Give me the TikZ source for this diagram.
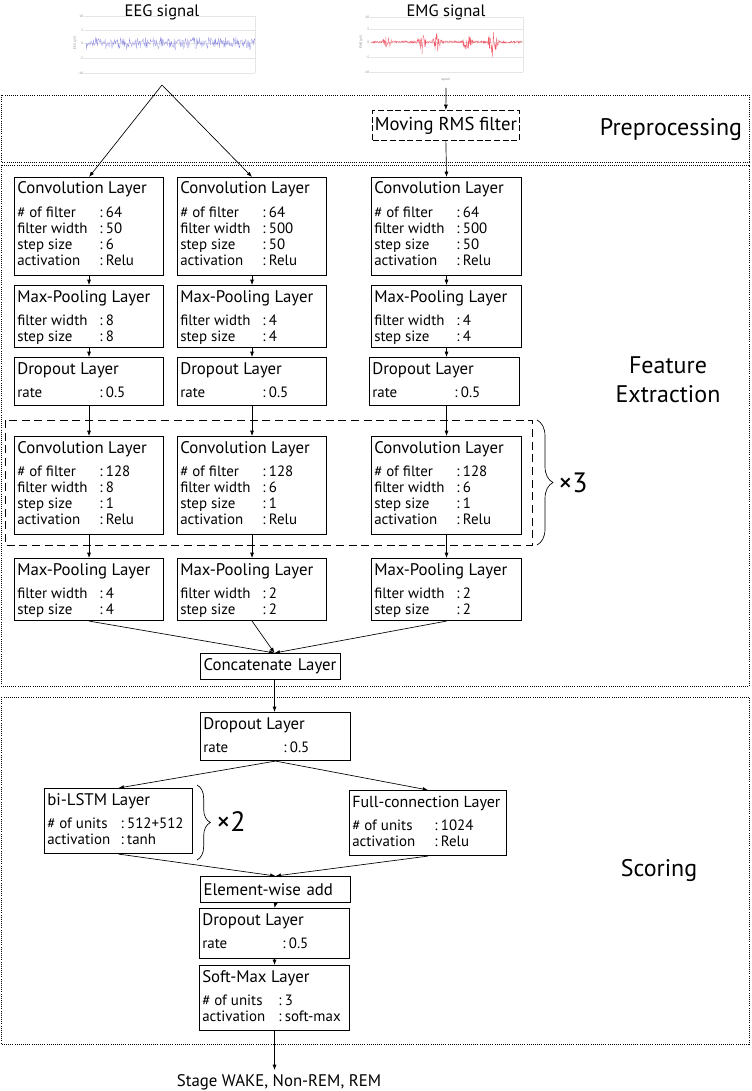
\documentclass[tikz,border=0pt]{standalone}
\usepackage{fontspec}
\setmainfont{PT Sans}
\usetikzlibrary{arrows.meta,decorations.pathreplacing}
\definecolor{eegblue}{RGB}{140,140,225}
\definecolor{emgred}{RGB}{240,90,105}
\newcommand{\lrow}[3][61.5pt]{\makebox[#1][l]{#2}:\hspace{2.5pt}#3}
% name, x, y, width, height, title, rows
\newcommand{\layer}[7]{%
\node[box,minimum width=#4*0.75pt,minimum height=#5*0.75pt,anchor=north west](#1) at (#2,#3) {};
\node[ttl,anchor=base west](#1-t) at ([shift={(3,17)}]#1.north west) {#6};
\node[prm,anchor=north west](#1-p) at ([shift={(3,30)}]#1.north west) {#7};}
\begin{document}
\begin{tikzpicture}[x=0.75pt,y=-0.75pt,
box/.style={draw,line width=0.8pt,inner sep=0pt},
ttl/.style={inner sep=0pt,font=\fontsize{12.6}{14}\selectfont},
prm/.style={inner sep=0pt,align=left,font=\fontsize{11.2}{11.8}\selectfont},
oneline/.style={box,anchor=north west,align=left,minimum height=19.5pt,inner xsep=2.25pt,font=\fontsize{12.6}{14}\selectfont},
sect/.style={densely dotted,line width=0.6pt},
sectname/.style={font=\fontsize{18}{22}\selectfont,align=center},
rep/.style={dash pattern=on 6pt off 3.5pt,line width=0.6pt},
arr/.style={-{Latex[length=4pt,width=3pt]},line width=0.5pt},
tick/.style={font=\fontsize{2.5}{3}\selectfont,text=gray,inner sep=0.5pt},
declare function={emgenv(\t)=1.2+8*max(0,1-abs(\t-387)/5)+11*max(0,1-abs(\t-422)/6)
 +10*max(0,1-abs(\t-437)/5)+9*max(0,1-abs(\t-467)/6)+17*max(0,1-abs(\t-493)/6);}]
\useasboundingbox (0,0) rectangle (751,1091);
\pgfmathsetseed{7}
% signals
\node[ttl,font=\fontsize{12.4}{14}\selectfont](eegname) at (162,12) {EEG signal};
\node[ttl,font=\fontsize{12.4}{14}\selectfont](emgname) at (446,12) {EMG signal};
\foreach \g/\v in {16/10,30/5,43/0,58/-5,73/-10}{
  \draw[gray!20,line width=0.2pt] (84,\g) -- (255,\g);
  \node[tick,anchor=east] at (84,\g) {\v};}
\draw[gray!20,line width=0.2pt] (255,16) -- (255,73);
\node[tick,rotate=90] (eegaxis) at (75,43) {EEG (\textmu V)};
\draw[eegblue,line width=0.2pt] plot[domain=86:255,samples=300] (\x,{43+4.5*rand+2.5*rand});
\foreach \g/\v in {17/10,29/5,42/0,57/-5,72/-10}{
  \draw[gray!20,line width=0.2pt] (370,\g) -- (523,\g);
  \node[tick,anchor=east] at (370,\g) {\v};}
\draw[gray!20,line width=0.2pt] (523,17) -- (523,72);
\node[tick,rotate=90] (emgaxis) at (361,42) {EMG (\textmu V)};
\node[tick] (epoch) at (446,80) {epoch};
\draw[emgred,line width=0.2pt] plot[domain=371:522,samples=450] (\x,{42+emgenv(\x)*rand});
\coordinate (eegout) at (162,85);
\coordinate (emgout) at (446,88);
% sections
\draw[sect] (1,95) rectangle (749,162);
\draw[sect] (1,165) rectangle (749,686);
\draw[sect] (1,697) rectangle (749,1044);
\node[sectname] (prep) at (671,130) {Preprocessing};
\node[sectname] (feat) at (668,380) {Feature\\Extraction};
\node[sectname] (score) at (659,870) {Scoring};
% preprocessing
\node[box,dash pattern=on 4.5pt off 2pt,minimum width=110pt,minimum height=22.5pt,anchor=north west,
  font=\fontsize{14}{16}\selectfont] (rms) at (372,110) {Moving RMS filter};
% feature extraction
\layer{c1}{14}{177}{149}{98}{Convolution Layer}{\lrow{\# of filter}{64}\\\lrow{filter width}{50}\\\lrow{step size}{6}\\\lrow{activation}{Relu}}
\layer{c2}{177}{177}{149}{98}{Convolution Layer}{\lrow{\# of filter}{64}\\\lrow{filter width}{500}\\\lrow{step size}{50}\\\lrow{activation}{Relu}}
\layer{c3}{371}{177}{150}{98}{Convolution Layer}{\lrow{\# of filter}{64}\\\lrow{filter width}{500}\\\lrow{step size}{50}\\\lrow{activation}{Relu}}
\layer{p1}{14}{285}{149}{62}{Max-Pooling Layer}{\lrow{filter width}{8}\\\lrow{step size}{8}}
\layer{p2}{177}{285}{149}{62}{Max-Pooling Layer}{\lrow{filter width}{4}\\\lrow{step size}{4}}
\layer{p3}{371}{285}{150}{62}{Max-Pooling Layer}{\lrow{filter width}{4}\\\lrow{step size}{4}}
\layer{d1}{14}{357}{149}{48}{Dropout Layer}{\lrow{rate}{0.5}}
\layer{d2}{177}{357}{149}{48}{Dropout Layer}{\lrow{rate}{0.5}}
\layer{d3}{369}{357}{150}{48}{Dropout Layer}{\lrow{rate}{0.5}}
\draw[rep] (5,420) rectangle (532,545);
\layer{k1}{14}{436}{149}{98}{Convolution Layer}{\lrow{\# of filter}{128}\\\lrow{filter width}{8}\\\lrow{step size}{1}\\\lrow{activation}{Relu}}
\layer{k2}{177}{436}{149}{98}{Convolution Layer}{\lrow{\# of filter}{128}\\\lrow{filter width}{6}\\\lrow{step size}{1}\\\lrow{activation}{Relu}}
\layer{k3}{371}{436}{150}{98}{Convolution Layer}{\lrow{\# of filter}{128}\\\lrow{filter width}{6}\\\lrow{step size}{1}\\\lrow{activation}{Relu}}
\draw[line width=0.5pt,decorate,decoration={brace,amplitude=12pt}] (537,420) -- (537,545);
\node[anchor=west,font=\fontsize{21}{24}\selectfont,inner sep=0pt] (times3) at (558,483) {×3};
\layer{q1}{14}{558}{149}{62}{Max-Pooling Layer}{\lrow{filter width}{4}\\\lrow{step size}{4}}
\layer{q2}{177}{558}{149}{62}{Max-Pooling Layer}{\lrow{filter width}{2}\\\lrow{step size}{2}}
\layer{q3}{371}{558}{150}{62}{Max-Pooling Layer}{\lrow{filter width}{2}\\\lrow{step size}{2}}
\node[oneline,text width=100.5pt] (cat) at (200,653) {Concatenate Layer};
% scoring
\layer{s1}{200}{712}{150}{48}{Dropout Layer}{\lrow[60pt]{rate}{0.5}}
\layer{lstm}{44}{788}{148}{65}{bi-LSTM Layer}{\lrow[55pt]{\# of units}{512+512}\\\lrow[55pt]{activation}{tanh}}
\layer{fc}{349}{790}{157}{65}{\fontsize{12}{14}\selectfont Full-connection Layer}{\lrow{\# of units}{1024}\\\lrow{activation}{Relu}}
\draw[line width=0.5pt,decorate,decoration={brace,amplitude=10pt}] (197,785) -- (197,860);
\node[anchor=west,font=\fontsize{21}{24}\selectfont,inner sep=0pt] (times2) at (216,822) {×2};
\node[oneline,text width=108pt] (add) at (200,876) {Element-wise add};
\layer{s2}{199}{908}{150}{50}{Dropout Layer}{\lrow[60pt]{rate}{0.5}}
\layer{sm}{199}{965}{150}{65}{Soft-Max Layer}{\lrow[57pt]{\# of units}{3}\\\lrow[57pt]{activation}{soft-max}}
\node[font=\fontsize{12.6}{14}\selectfont,anchor=north] (stage) at (279,1070) {Stage WAKE, Non-REM, REM};
% connectors
\draw[arr] (eegout) -- (c1.north);
\draw[arr] (eegout) -- (c2.north);
\draw[arr] (emgout) -- (rms.north);
\draw[arr] (rms.south) -- (c3.north);
\foreach \i in {1,2,3}{
  \draw[arr] (c\i.south) -- (p\i.north);
  \draw[arr] (p\i.south) -- (p\i.south |- d\i.north);
  \draw[arr] (p\i.south |- d\i.south) -- (k\i.north);
  \draw[arr] (k\i.south) -- (q\i.north);
  \draw[arr] (q\i.south) -- ([xshift=3pt]cat.north);}
\draw[arr] ([xshift=3pt]cat.south) -- ([xshift=3pt]cat.south |- s1.north);
\draw[arr] (s1.south) -- (lstm.north);
\draw[arr] (s1.south) -- (fc.north);
\draw[arr] (lstm.south) -- (add.north);
\draw[arr] (fc.south) -- (add.north);
\draw[arr] (add.south) -- (s2.north);
\draw[arr] (s2.south) -- (sm.north);
\draw[arr] (sm.south) -- (sm.south |- stage.north);
\end{tikzpicture}
\end{document}
